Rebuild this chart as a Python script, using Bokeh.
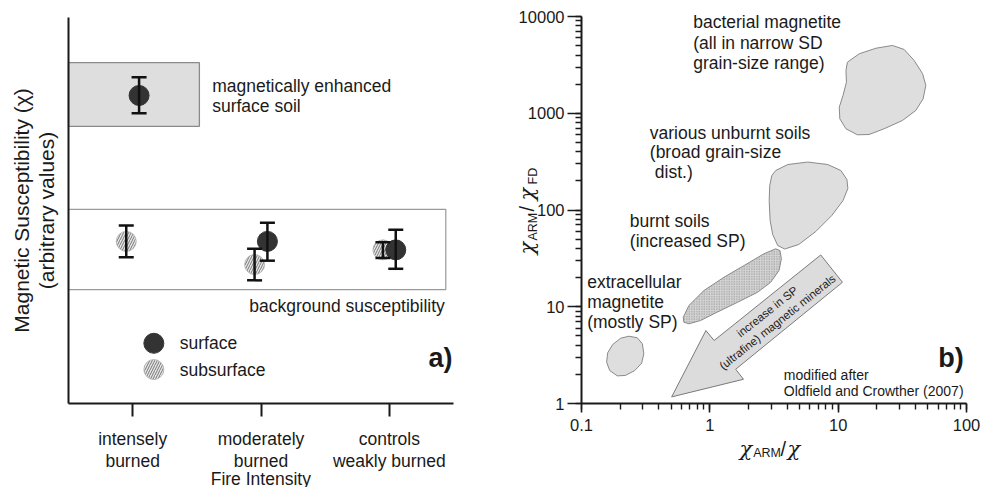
import math
from bokeh.plotting import figure
from bokeh.layouts import row
from bokeh.models import (ColumnDataSource, Whisker, TeeHead, Label, Range1d,
                          FixedTicker, NumeralTickFormatter)
from bokeh.embed import file_html
from bokeh.resources import INLINE

# ---------------- panel a) : susceptibility vs. fire intensity ----------------
categories = ["intensely\nburned", "moderately\nburned", "controls\nweakly burned"]
surface_chi = [79.8, 42.0, 39.8]
surface_hi = [84.5, 46.8, 45.0]
surface_lo = [75.2, 37.0, 34.9]
subsurface_chi = [42.0, 36.0, 39.8]
subsurface_hi = [46.1, 40.1, 41.8]
subsurface_lo = [37.9, 31.9, 37.7]
enhanced_band = [71.8, 88.3]      # magnetically enhanced surface soil
background_band = [29.5, 50.3]    # background susceptibility

# ---------------- panel b) : chiARM/chi vs chiARM/chiFD regions ----------------
bacterial_x = [11.8, 14.6, 19.7, 26.5, 32.7, 39.1, 45.5, 48.2, 45.9, 40.3,
               31.7, 22.8, 17.4, 14.1, 11.5, 10.3, 10.2, 10.9, 11.6, 11.5]
bacterial_y = [3370, 4120, 4700, 5020, 4560, 3510, 2560, 1940, 1410, 1070,
               842, 691, 603, 599, 691, 876, 1155, 1526, 2094, 2766]
unburnt_x = [3.26, 4.05, 5.79, 8.30, 10.5, 11.7, 11.9, 10.9, 8.92, 6.69,
             4.93, 3.83, 3.38, 3.09, 2.95, 2.90, 2.93, 3.04]
unburnt_y = [256, 295, 313, 295, 256, 207, 167, 125, 87.7, 59.9,
             44.0, 39.5, 43.0, 55.8, 77.9, 125, 179, 227]
burnt_x = [0.687, 0.899, 1.29, 1.85, 2.64, 3.26, 3.52, 3.61, 3.46, 2.98,
           2.35, 1.64, 1.14, 0.848, 0.687, 0.628, 0.621]
burnt_y = [10.3, 14.7, 20.2, 26.7, 35.3, 39.7, 38.1, 31.3, 23.7, 17.9,
           14.1, 11.1, 8.79, 7.21, 6.67, 6.92, 7.80]
extracell_x = [0.234, 0.272, 0.298, 0.306, 0.294, 0.260, 0.220, 0.190,
               0.166, 0.157, 0.160, 0.175, 0.202]
extracell_y = [4.96, 4.78, 4.14, 3.26, 2.61, 2.19, 1.95, 1.93,
               2.19, 2.67, 3.34, 4.07, 4.73]
trend_arrow_x = [0.504, 1.83, 1.59, 10.8, 7.32, 1.08, 0.932]
trend_arrow_y = [1.17, 1.78, 2.26, 17.9, 34.3, 4.48, 5.68]

FONT = "Liberation Sans"
CHI_FONT = "DejaVu Serif"
INK = "#1a1a1a"
REGION_FILL = "#dedede"
REGION_LINE = "#8a8a8a"
DODGE = 0.05
FIG_H = 487

# Each figure's frame fills its whole canvas; the axes are pinned inside it with
# fixed_location/bounds so that titles and notes can sit anywhere on the canvas.
# Plot-area geometry in canvas pixels (left, right, top, bottom).
A_W, A_BOX = 480, (68, 453, 17, 403)
B_W, B_BOX = 502, (101, 486, 16, 403)


def linear_range(lo, hi, p_lo, p_hi, size):
    scale = (hi - lo) / (p_hi - p_lo)
    return Range1d(lo - p_lo * scale, hi + (size - p_hi) * scale)


def log_range(lo, hi, p_lo, p_hi, size):
    a, b = math.log10(lo), math.log10(hi)
    scale = (b - a) / (p_hi - p_lo)
    return Range1d(10 ** (a - p_lo * scale), 10 ** (b + (size - p_hi) * scale))


def note(fig, text, x, y, size="17.5px", align="left", baseline="middle",
         angle=0.0, bold=False, font=FONT, style=None):
    """Text at canvas pixel (x, y), y measured from the top."""
    fig.add_layout(Label(x=x, y=FIG_H - y, x_units="screen", y_units="screen", text=text,
                         text_font=font, text_font_size=size, text_align=align,
                         text_baseline=baseline, angle=angle,
                         text_font_style=style or ("bold" if bold else "normal"),
                         text_color=INK))


# ============================ panel a) ============================
l, r, t, b = A_BOX
pa = figure(width=A_W, height=FIG_H,
            x_range=linear_range(0.5, 3.5, l, r, A_W),
            y_range=linear_range(0, 100, FIG_H - b, FIG_H - t, FIG_H),
            output_backend="svg", toolbar_location=None,
            min_border=0, min_border_left=0, min_border_right=0,
            min_border_top=0, min_border_bottom=0)
pa.grid.visible = False
pa.outline_line_color = None

idx = list(range(1, len(categories) + 1))

# shaded ranges
pa.quad(left=[0.5], right=[1.52], bottom=[enhanced_band[0]], top=[enhanced_band[1]],
        fill_color=REGION_FILL, line_color=REGION_LINE, line_width=1.3)
pa.quad(left=[0.5], right=[3.44], bottom=[background_band[0]], top=[background_band[1]],
        fill_color="white", line_color="#9a9a9a", line_width=1.2)

sub_src = ColumnDataSource(dict(x=[i - DODGE for i in idx], y=subsurface_chi,
                                upper=subsurface_hi, lower=subsurface_lo))
surf_src = ColumnDataSource(dict(x=[i + DODGE for i in idx], y=surface_chi,
                                 upper=surface_hi, lower=surface_lo))

sub_style = dict(marker="circle", size=20, fill_color="#e6e6e6", line_color="#b0b0b0",
                 line_width=0.8, hatch_pattern="right_diagonal_line", hatch_color="#6a6a6a",
                 hatch_scale=5, hatch_weight=0.9)
surf_style = dict(marker="circle", size=20, fill_color="#333333", line_color="#333333")

pa.scatter("x", "y", source=sub_src, **sub_style)
pa.scatter("x", "y", source=surf_src, **surf_style)

for src in (sub_src, surf_src):
    pa.add_layout(Whisker(source=src, base="x", upper="upper", lower="lower",
                          dimension="height", level="annotation",
                          line_color="#111111", line_width=2.5,
                          upper_head=TeeHead(size=15, line_width=2.5, line_color="#111111"),
                          lower_head=TeeHead(size=15, line_width=2.5, line_color="#111111")))

# legend swatches
LEGEND_X = 1.165
LEGEND_Y = [15.6, 8.8]
pa.scatter([LEGEND_X], [LEGEND_Y[0]], **surf_style)
pa.scatter([LEGEND_X], [LEGEND_Y[1]], **sub_style)

# axes
pa.xaxis.fixed_location = 0
pa.xaxis.bounds = (0.5, 3.5)
pa.yaxis.fixed_location = 0.5
pa.yaxis.bounds = (0, 100)
pa.xaxis.ticker = FixedTicker(ticks=idx)
pa.xaxis.major_label_overrides = {i: c for i, c in zip(idx, categories)}
pa.xaxis.major_tick_out = 13
pa.xaxis.major_tick_in = 0
pa.xaxis.minor_tick_line_color = None
pa.xaxis.major_label_standoff = 12
pa.xaxis.major_label_text_font = FONT
pa.xaxis.major_label_text_font_size = "17.5px"
pa.xaxis.major_label_text_color = INK
pa.xaxis.major_label_text_line_height = 1.1
pa.yaxis.ticker = FixedTicker(ticks=[])
pa.yaxis.minor_tick_line_color = None
for ax in (pa.xaxis[0], pa.yaxis[0]):
    ax.axis_line_width = 2
    ax.axis_line_color = INK
    ax.major_tick_line_width = 2
    ax.major_tick_line_color = INK

note(pa, "magnetically enhanced", 211.7, 85)
note(pa, "surface soil", 211.7, 105)
note(pa, "background susceptibility", 444.3, 305, align="right")
note(pa, "surface", 179.3, 342.7)
note(pa, "subsurface", 179.3, 369)
note(pa, "a)", 452, 357, size="27px", align="right", bold=True)
note(pa, "Fire Intensity", 260.3, 478, align="center")
note(pa, "Magnetic Susceptibility (\u03c7)", 21, 210, size="21px", align="center",
     angle=math.pi / 2)
note(pa, "(arbitrary values)", 46, 210, size="21px", align="center", angle=math.pi / 2)

# ============================ panel b) ============================
l, r, t, b = B_BOX
pb = figure(width=B_W, height=FIG_H, x_axis_type="log", y_axis_type="log",
            x_range=log_range(0.1, 100, l, r, B_W),
            y_range=log_range(1, 10000, FIG_H - b, FIG_H - t, FIG_H),
            output_backend="svg", toolbar_location=None,
            min_border=0, min_border_left=0, min_border_right=0,
            min_border_top=0, min_border_bottom=0)
pb.grid.visible = False
pb.outline_line_color = None

region_style = dict(fill_color=REGION_FILL, line_color=REGION_LINE, line_width=1)
pb.patch(bacterial_x, bacterial_y, **region_style)
pb.patch(unburnt_x, unburnt_y, **region_style)
pb.patch(extracell_x, extracell_y, **region_style)
pb.patch(burnt_x, burnt_y, fill_color="#d4d4d4", line_color=REGION_LINE, line_width=1,
         hatch_pattern="dot", hatch_color="#8a8a8a", hatch_scale=2.5, hatch_weight=0.8)
pb.patch(trend_arrow_x, trend_arrow_y, fill_color="#dcdcdc", line_color="#7a7a7a",
         line_width=1)

pb.xaxis.fixed_location = 1
pb.xaxis.bounds = (0.1, 100)
pb.yaxis.fixed_location = 0.1
pb.yaxis.bounds = (1, 10000)
for ax in (pb.xaxis[0], pb.yaxis[0]):
    ax.axis_line_width = 2
    ax.axis_line_color = INK
    ax.major_tick_line_width = 1.6
    ax.major_tick_line_color = INK
    ax.minor_tick_line_width = 1.4
    ax.minor_tick_line_color = INK
    ax.major_tick_in = 0
    ax.minor_tick_in = 0
    ax.minor_tick_out = 6
    ax.formatter = NumeralTickFormatter(format="0.[0]")
    ax.major_label_text_font = FONT
    ax.major_label_text_font_size = "16.5px"
    ax.major_label_text_color = INK
pb.xaxis.major_tick_out = 9
pb.xaxis.major_label_standoff = 6
pb.yaxis.major_tick_out = 14
pb.yaxis.major_label_standoff = 3

note(pb, "bacterial magnetite", 212.7, 21.7)
note(pb, "(all in narrow SD", 212.7, 42.3)
note(pb, "grain-size range)", 212.7, 62.3)
note(pb, "various unburnt soils", 169.3, 132)
note(pb, "(broad grain-size", 169.3, 151.7)
note(pb, "dist.)", 174.3, 171.7)
note(pb, "burnt soils", 149.3, 220.7)
note(pb, "(increased SP)", 149.3, 240.7)
note(pb, "extracellular", 106.7, 281.7)
note(pb, "magnetite", 106.7, 301.7)
note(pb, "(mostly SP)", 106.7, 321.7)
note(pb, "modified after", 303.3, 374.3, size="14px")
note(pb, "Oldfield and Crowther (2007)", 303.3, 390, size="14px")
note(pb, "b)", 483.3, 357, size="27px", align="right", bold=True)

ARROW_ANGLE = math.radians(38.5)
note(pb, "increase in SP", 286.7, 311.0, size="11.5px", align="center", angle=ARROW_ANGLE)
note(pb, "(ultrafine) magnetic minerals", 297.0, 321.5, size="11.5px", align="center",
     angle=ARROW_ANGLE)

# axis titles with subscripts
chi = dict(font=CHI_FONT, style="italic", size="21px", baseline="alphabetic")
note(pb, "\u03c7", 259, 448, **chi)
note(pb, "ARM", 272.7, 452, size="12.5px", baseline="alphabetic")
note(pb, "/", 300, 448, size="20px", baseline="alphabetic")
note(pb, "\u03c7", 307, 448, **chi)

note(pb, "\u03c7", 46, 254, angle=math.pi / 2, **chi)
note(pb, "ARM", 52, 240, size="12.5px", baseline="alphabetic", angle=math.pi / 2)
note(pb, "/", 46, 211, size="20px", baseline="alphabetic", angle=math.pi / 2)
note(pb, "\u03c7", 46, 200, angle=math.pi / 2, **chi)
note(pb, "FD", 52, 184, size="12.5px", baseline="alphabetic", angle=math.pi / 2)

layout = row(pa, pb)
open("out.html", "w").write(file_html(layout, INLINE))
